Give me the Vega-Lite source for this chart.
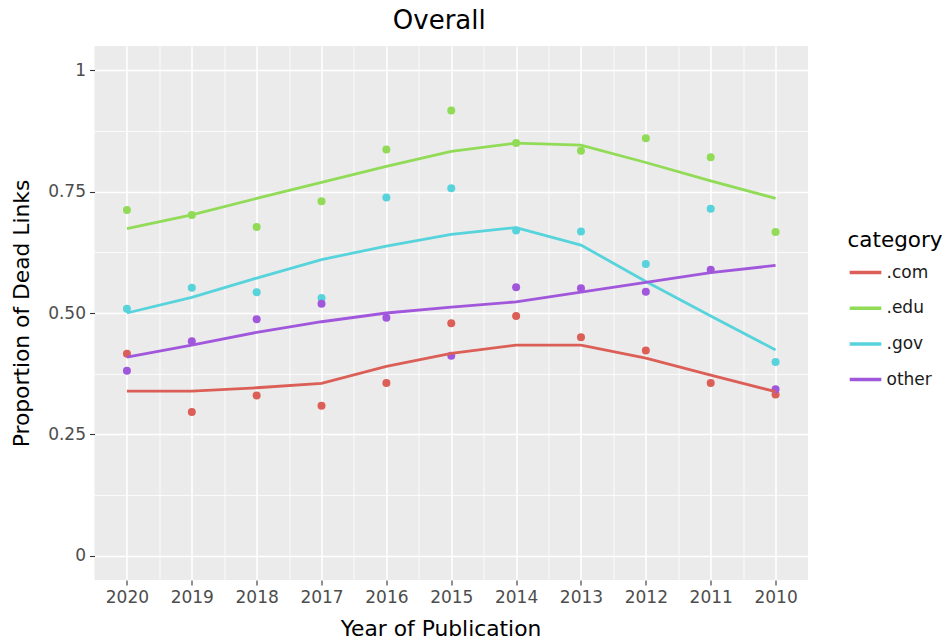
{
  "$schema": "https://vega.github.io/schema/vega-lite/v6.json",
  "width": 713.5,
  "height": 534,
  "autosize": {"type": "none"},
  "padding": {"left": 94.5, "top": 46, "right": 141, "bottom": 63},
  "background": "white",
  "title": {
    "text": "Overall",
    "font": "DejaVu Sans",
    "fontSize": 26,
    "fontWeight": "normal",
    "color": "#000000",
    "anchor": "middle",
    "offset": 12,
    "dx": -12
  },
  "data": {
    "values": [
      {"year": 2020, "category": ".com", "rate": 0.416, "fit": 0.339},
      {"year": 2019, "category": ".com", "rate": 0.296, "fit": 0.339},
      {"year": 2018, "category": ".com", "rate": 0.330, "fit": 0.346},
      {"year": 2017, "category": ".com", "rate": 0.309, "fit": 0.355},
      {"year": 2016, "category": ".com", "rate": 0.356, "fit": 0.390},
      {"year": 2015, "category": ".com", "rate": 0.479, "fit": 0.417},
      {"year": 2014, "category": ".com", "rate": 0.494, "fit": 0.434},
      {"year": 2013, "category": ".com", "rate": 0.450, "fit": 0.434},
      {"year": 2012, "category": ".com", "rate": 0.423, "fit": 0.407},
      {"year": 2011, "category": ".com", "rate": 0.356, "fit": 0.372},
      {"year": 2010, "category": ".com", "rate": 0.332, "fit": 0.338},
      {"year": 2020, "category": ".edu", "rate": 0.712, "fit": 0.674},
      {"year": 2019, "category": ".edu", "rate": 0.702, "fit": 0.702},
      {"year": 2018, "category": ".edu", "rate": 0.677, "fit": 0.736},
      {"year": 2017, "category": ".edu", "rate": 0.730, "fit": 0.769},
      {"year": 2016, "category": ".edu", "rate": 0.837, "fit": 0.802},
      {"year": 2015, "category": ".edu", "rate": 0.917, "fit": 0.833},
      {"year": 2014, "category": ".edu", "rate": 0.850, "fit": 0.850},
      {"year": 2013, "category": ".edu", "rate": 0.834, "fit": 0.846},
      {"year": 2012, "category": ".edu", "rate": 0.860, "fit": 0.810},
      {"year": 2011, "category": ".edu", "rate": 0.821, "fit": 0.772},
      {"year": 2010, "category": ".edu", "rate": 0.667, "fit": 0.736},
      {"year": 2020, "category": ".gov", "rate": 0.509, "fit": 0.500},
      {"year": 2019, "category": ".gov", "rate": 0.552, "fit": 0.532},
      {"year": 2018, "category": ".gov", "rate": 0.543, "fit": 0.572},
      {"year": 2017, "category": ".gov", "rate": 0.531, "fit": 0.610},
      {"year": 2016, "category": ".gov", "rate": 0.738, "fit": 0.638},
      {"year": 2015, "category": ".gov", "rate": 0.757, "fit": 0.662},
      {"year": 2014, "category": ".gov", "rate": 0.670, "fit": 0.676},
      {"year": 2013, "category": ".gov", "rate": 0.668, "fit": 0.640},
      {"year": 2012, "category": ".gov", "rate": 0.601, "fit": 0.565},
      {"year": 2011, "category": ".gov", "rate": 0.715, "fit": 0.494},
      {"year": 2010, "category": ".gov", "rate": 0.399, "fit": 0.424},
      {"year": 2020, "category": "other", "rate": 0.381, "fit": 0.409},
      {"year": 2019, "category": "other", "rate": 0.442, "fit": 0.434},
      {"year": 2018, "category": "other", "rate": 0.487, "fit": 0.460},
      {"year": 2017, "category": "other", "rate": 0.519, "fit": 0.482},
      {"year": 2016, "category": "other", "rate": 0.490, "fit": 0.500},
      {"year": 2015, "category": "other", "rate": 0.412, "fit": 0.512},
      {"year": 2014, "category": "other", "rate": 0.553, "fit": 0.523},
      {"year": 2013, "category": "other", "rate": 0.551, "fit": 0.543},
      {"year": 2012, "category": "other", "rate": 0.544, "fit": 0.563},
      {"year": 2011, "category": "other", "rate": 0.589, "fit": 0.583},
      {"year": 2010, "category": "other", "rate": 0.343, "fit": 0.598}
    ]
  },
  "layer": [
    {
      "mark": {"type": "circle", "size": 64, "opacity": 1},
      "encoding": {
        "x": {
          "field": "year",
          "type": "quantitative",
          "scale": {"domain": [2009.5, 2020.5], "reverse": true, "nice": false, "zero": false},
          "axis": {
            "orient": "top",
            "values": [2010.5, 2011.5, 2012.5, 2013.5, 2014.5, 2015.5, 2016.5, 2017.5, 2018.5, 2019.5],
            "grid": true, "gridColor": "#FFFFFF", "gridWidth": 0.8,
            "labels": false, "ticks": false, "domain": false, "title": null
          }
        },
        "y": {
          "field": "rate",
          "type": "quantitative",
          "scale": {"domain": [-0.05, 1.05], "nice": false, "zero": false},
          "axis": {
            "orient": "right",
            "values": [0.125, 0.375, 0.625, 0.875],
            "grid": true, "gridColor": "#FFFFFF", "gridWidth": 0.8,
            "labels": false, "ticks": false, "domain": false, "title": null
          }
        },
        "color": {
          "field": "category",
          "type": "nominal",
          "title": "category",
          "scale": {
            "domain": [".com", ".edu", ".gov", "other"],
            "range": ["#DB5F57", "#91DB57", "#57D3DB", "#A157DB"]
          }
        }
      }
    },
    {
      "mark": {"type": "line", "strokeWidth": 2.8},
      "encoding": {
        "x": {
          "field": "year",
          "type": "quantitative",
          "axis": {
            "orient": "bottom",
            "values": [2010, 2011, 2012, 2013, 2014, 2015, 2016, 2017, 2018, 2019, 2020],
            "format": "d",
            "labelAngle": 0,
            "grid": true, "gridColor": "#FFFFFF", "gridWidth": 1.6,
            "titlePadding": 13,
            "titleX": 346,
            "titleAlign": "center",
            "title": "Year of Publication"
          }
        },
        "y": {
          "field": "fit",
          "type": "quantitative",
          "axis": {
            "orient": "left",
            "values": [0, 0.25, 0.5, 0.75, 1],
            "labelExpr": "datum.value == 0 ? '0' : datum.value == 1 ? '1' : format(datum.value, '.2f')",
            "grid": true, "gridColor": "#FFFFFF", "gridWidth": 1.6,
            "titlePadding": 14,
            "title": "Proportion of Dead Links"
          }
        },
        "color": {
          "field": "category",
          "type": "nominal",
          "title": "category"
        }
      }
    }
  ],
  "resolve": {"axis": {"x": "independent", "y": "independent"}},
  "config": {
    "font": "DejaVu Sans",
    "view": {"fill": "#EBEBEB", "stroke": null},
    "axis": {
      "domain": false,
      "tickColor": "#333333",
      "tickSize": 5,
      "tickWidth": 1.1,
      "labelColor": "#4D4D4D",
      "labelFont": "DejaVu Sans",
      "labelFontSize": 17,
      "labelPadding": 4,
      "titleFont": "DejaVu Sans",
      "titleFontSize": 21.8,
      "titleFontWeight": "normal",
      "titleColor": "#000000"
    },
    "legend": {
      "orient": "none",
      "legendX": 753,
      "legendY": 184,
      "padding": 0,
      "symbolType": "stroke",
      "symbolSize": 1000,
      "symbolStrokeWidth": 3.5,
      "labelFont": "DejaVu Sans",
      "labelFontSize": 17,
      "labelColor": "#1A1A1A",
      "labelOffset": 3,
      "titleFont": "DejaVu Sans",
      "titleFontSize": 21.5,
      "titleFontWeight": "normal",
      "titleColor": "#000000",
      "titlePadding": 3,
      "rowPadding": 9.7
    }
  }
}
